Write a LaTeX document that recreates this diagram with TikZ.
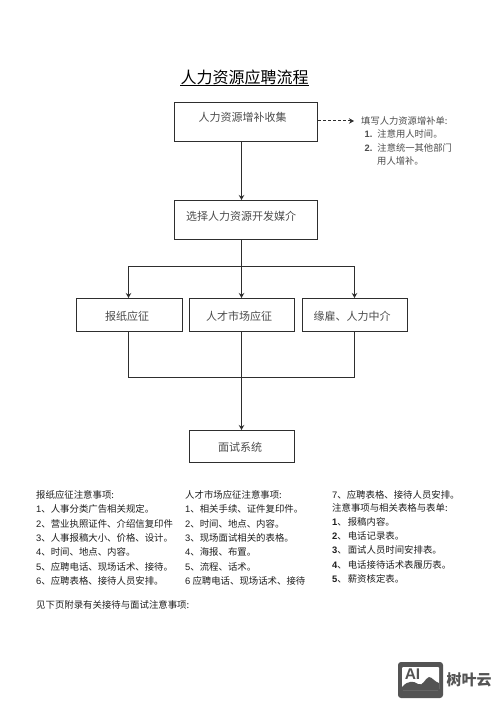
\documentclass[tikz,border=0pt]{standalone}
\usepackage{fontspec}
\usetikzlibrary{arrows.meta,calc}
\setmainfont{Noto Sans CJK SC}
\setsansfont{Liberation Sans}
\definecolor{boxline}{gray}{0.18}
\definecolor{soft}{gray}{0.30}
\definecolor{bodytxt}{gray}{0.12}
\definecolor{wmgray}{gray}{0.33}
\tikzset{
  x=1pt,y=-1pt,
  flowbox/.style={draw=boxline,line width=1pt,fill=white,rectangle,inner sep=0pt,anchor=north west},
  boxtext/.style={text=soft,font=\fontsize{11}{11}\selectfont,inner sep=0pt},
  sidetext/.style={text=soft,font=\fontsize{9.3}{9.3}\selectfont,inner sep=0pt,anchor=west},
  bodyline/.style={text=bodytxt,font=\fontsize{9.4}{9.4}\selectfont,inner sep=0pt,anchor=west},
  flow/.style={draw=boxline,line width=1pt,-{Stealth[length=5pt,width=5.5pt]}},
  plainflow/.style={draw=boxline,line width=0.8pt},
}
\begin{document}
\begin{tikzpicture}
\useasboundingbox (0,0) rectangle (500,708);
\fill[white] (0,0) rectangle (500,708);

% title
\node[inner sep=0pt,font=\fontsize{16}{16}\selectfont,text=black] (title) at (244.5,77.5) {人力资源应聘流程};
\draw[line width=0.9pt,black] (title.west |- 0,85) -- (title.east |- 0,85);

% boxes
\node[flowbox,minimum width=143pt,minimum height=39pt] (b1) at (174,102) {};
\node[flowbox,minimum width=143pt,minimum height=39pt] (b2) at (174,200) {};
\node[flowbox,minimum width=106pt,minimum height=33pt] (p1) at (76,298) {};
\node[flowbox,minimum width=105pt,minimum height=33pt] (p2) at (189,298) {};
\node[flowbox,minimum width=105.5pt,minimum height=33pt] (p3) at (301.5,298) {};
\node[flowbox,minimum width=105pt,minimum height=32pt] (b3) at (189,430) {};

\node[boxtext] (tb1) at (242.5,117) {人力资源增补收集};
\node[boxtext] (tb2) at (241,216) {选择人力资源开发媒介};
\node[boxtext] (tp1) at (127,316) {报纸应征};
\node[boxtext] (tp2) at (239,316) {人才市场应征};
\node[boxtext] (tp3) at (352,316) {缘雇、人力中介};
\node[boxtext] (tb3) at (240,447) {面试系统};

% connectors
\coordinate (trunk) at (241.5,266);
\coordinate (merge) at (241.5,377);
\coordinate (lx) at (128.5,0);
\coordinate (rx) at (354.5,0);
\coordinate (note) at (354,121);
\draw[flow] (b1.south -| trunk) -- (b2.north -| trunk);
\draw[plainflow,line width=1pt] (b2.south -| trunk) -- (trunk);
\draw[flow] (trunk) -- (p2.north -| trunk);
\draw[flow] (trunk) -- (trunk -| lx) -- (p1.north -| lx);
\draw[flow] (trunk) -- (trunk -| rx) -- (p3.north -| rx);
\draw[plainflow] (p1.south -| lx) -- (merge -| lx) -- (merge -| rx) -- (p3.south -| rx);
\draw[flow] (p2.south -| trunk) -- (b3.north -| trunk);
\draw[flow,dash pattern=on 3pt off 2pt] (b1.east |- note) -- (note);

% side note
\node[sidetext] (n0) at (361,121) {填写人力资源增补单:};
\node[sidetext] (n1) at (364.5,134) {{\sffamily\bfseries 1.}\hspace{5pt}注意用人时间。};
\node[sidetext] (n2) at (364.5,148) {{\sffamily\bfseries 2.}\hspace{5pt}注意统一其他部门};
\node[sidetext] (n3) at (377,161) {用人增补。};

% left column
\node[bodyline] (l0) at (36,495) {报纸应征注意事项:};
\node[bodyline] (l1) at (36,509.3) {{\sffamily 1}、人事分类广告相关规定。};
\node[bodyline] (l2) at (36,523.7) {{\sffamily 2}、营业执照证件、介绍信复印件};
\node[bodyline] (l3) at (36,538) {{\sffamily 3}、人事报稿大小、价格、设计。};
\node[bodyline] (l4) at (36,552.3) {{\sffamily 4}、时间、地点、内容。};
\node[bodyline] (l5) at (36,566.7) {{\sffamily 5}、应聘电话、现场话术、接待。};
\node[bodyline] (l6) at (36,581) {{\sffamily 6}、应聘表格、接待人员安排。};
\node[bodyline] (l7) at (36,605) {见下页附录有关接待与面试注意事项:};

% middle column
\node[bodyline] (m0) at (185,495) {人才市场应征注意事项:};
\node[bodyline] (m1) at (185,509.3) {{\sffamily 1}、相关手续、证件复印件。};
\node[bodyline] (m2) at (185,523.7) {{\sffamily 2}、时间、地点、内容。};
\node[bodyline] (m3) at (185,538) {{\sffamily 3}、现场面试相关的表格。};
\node[bodyline] (m4) at (185,552.3) {{\sffamily 4}、海报、布置。};
\node[bodyline] (m5) at (185,566.7) {{\sffamily 5}、流程、话术。};
\node[bodyline] (m6) at (185,581) {{\sffamily 6} 应聘电话、现场话术、接待};

% right column
\node[bodyline] (r0) at (332,495) {{\sffamily 7}、应聘表格、接待人员安排。};
\node[bodyline] (r1) at (332,508) {注意事项与相关表格与表单:};
\node[bodyline] (r2) at (332,522) {{\sffamily\bfseries 1}、\hspace{1pt}报稿内容。};
\node[bodyline] (r3) at (332,536) {{\sffamily\bfseries 2}、\hspace{1pt}电话记录表。};
\node[bodyline] (r4) at (332,550) {{\sffamily\bfseries 3}、\hspace{1pt}面试人员时间安排表。};
\node[bodyline] (r5) at (332,564.7) {{\sffamily\bfseries 4}、\hspace{1pt}电话接待话术表履历表。};
\node[bodyline] (r6) at (332,579) {{\sffamily\bfseries 5}、\hspace{1pt}薪资核定表。};

% watermark
\fill[wmgray,rounded corners=3pt] (398,662) rectangle (443,698);
\fill[white,rounded corners=1pt] (402,667) rectangle (439,690);
\fill[wmgray] (402,687) .. controls (408,680) and (414,681) .. (418,684) .. controls (423,687) and (425,678) .. (429,677) .. controls (432,677) and (435,682) .. (439,683) -- (439,690) -- (402,690) -- cycle;
\node[inner sep=0pt,text=wmgray,font=\sffamily\bfseries\fontsize{15.5}{15.5}\selectfont] (ai) at (412.5,674) {AI};
\node[inner sep=0pt,text=wmgray,font=\bfseries\fontsize{15}{15}\selectfont] (wm) at (469,680) {树叶云};
\end{tikzpicture}
\end{document}
